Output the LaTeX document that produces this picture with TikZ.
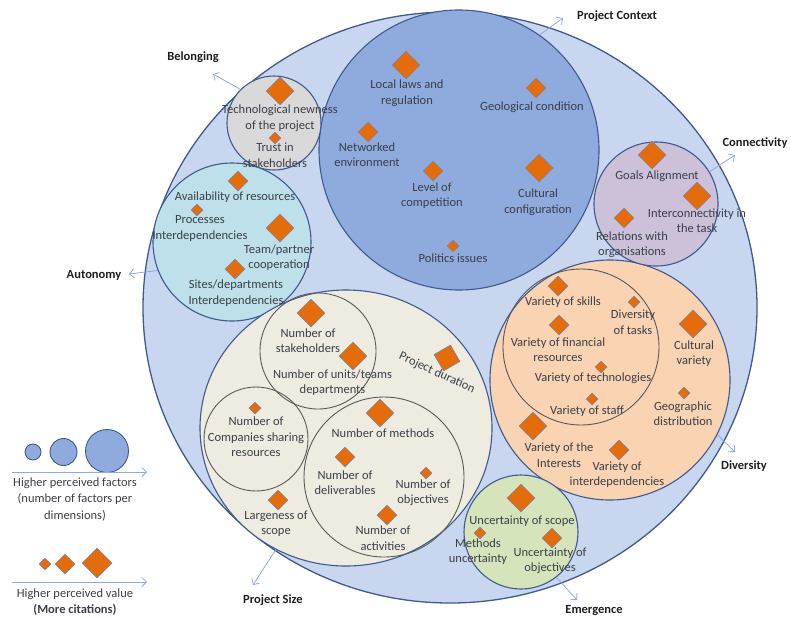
\documentclass[tikz,border=0pt]{standalone}
\usepackage{fontspec}
\setmainfont{Carlito}
\usetikzlibrary{shapes.geometric,arrows.meta}

\definecolor{outerfill}{HTML}{C9D6F0}
\definecolor{ringline}{HTML}{3F5A8C}
\definecolor{ctxfill}{HTML}{8FAADC}
\definecolor{belfill}{HTML}{D9D9D9}
\definecolor{autfill}{HTML}{BDE0EA}
\definecolor{confill}{HTML}{CDC1DA}
\definecolor{divfill}{HTML}{FAD3B3}
\definecolor{sizefill}{HTML}{EEECE1}
\definecolor{emefill}{HTML}{D6E4BC}
\definecolor{subline}{HTML}{595959}
\definecolor{diafill}{HTML}{E46C0A}
\definecolor{dialine}{HTML}{6F87B5}
\definecolor{txt}{HTML}{3A3E48}
\definecolor{dimtxt}{HTML}{1E1E1E}
\definecolor{arr}{HTML}{8EA9DB}

\begin{document}
\begin{tikzpicture}[x=1pt,y=-1pt,
  zone/.style={circle,draw=ringline,line width=1.1pt,inner sep=0pt,minimum size=#1},
  subzone/.style={circle,draw=subline,line width=0.9pt,inner sep=0pt,minimum size=#1},
  dia/.style={diamond,aspect=1,fill=diafill,draw=dialine,line width=0.5pt,inner sep=0pt,minimum width=#1,minimum height=#1},
  dS/.style={dia=12pt},
  dM/.style={dia=20pt},
  dL/.style={dia=28pt},
  lbl/.style={text=txt,align=center,inner sep=0pt,font=\fontsize{12.5}{15.5}\selectfont},
  dimlbl/.style={text=dimtxt,inner sep=0pt,font=\fontsize{12.5}{15}\selectfont\bfseries},
  dimarrow/.style={draw=arr,line width=0.8pt,-{Straight Barb[length=4.5pt,width=9pt]}}
]
\useasboundingbox (0,0) rectangle (791,619);

% ---- dimension zones ----
\node[ellipse,draw=ringline,line width=1.3pt,fill=outerfill,inner sep=0pt,
      minimum width=614pt,minimum height=591pt] (outer) at (450,307.5) {};
\node[zone=280pt,fill=ctxfill] (ctx) at (459,150) {};
\node[zone=158pt,fill=autfill] (aut) at (232,242) {};
\node[zone=94pt,fill=belfill] (bel) at (274,123) {};
\node[zone=240pt,fill=divfill] (div) at (610,380) {};
\node[subzone=156pt] (divin) at (581,347) {};
\node[zone=124pt,fill=confill] (con) at (656,204) {};
\node[ellipse,draw=ringline,line width=1.1pt,fill=sizefill,inner sep=0pt,
      minimum width=292pt,minimum height=276pt] (size) at (346,428) {};
\node[subzone=116pt] (stake) at (318,351) {};
\node[subzone=104pt] (comp) at (256,439) {};
\node[subzone=160pt] (meth) at (384,477) {};
\node[zone=114pt,fill=emefill] (eme) at (521,532) {};

% ---- dimension labels and their arrows ----
\node[dimlbl] (belL) at (193,57) {Belonging};
\node[dimlbl] (ctxL) at (617,16) {Project Context};
\node[dimlbl] (conL) at (755,143) {Connectivity};
\node[dimlbl] (autL) at (94,275) {Autonomy};
\node[dimlbl] (divL) at (744,466) {Diversity};
\node[dimlbl] (sizeL) at (273,600) {Project Size};
\node[dimlbl] (emeL) at (594,610) {Emergence};

\coordinate (belTip) at (213,74);
\coordinate (ctxTip) at (563,18);
\coordinate (conTip) at (735,155);
\coordinate (autTip) at (129,274);
\coordinate (divTip) at (735,452);
\coordinate (sizeTip) at (253,585);
\coordinate (emeTip) at (577,600);

\draw[dimarrow] (bel.135) -- (belTip);
\draw[dimarrow] (ctx.55) -- (ctxTip);
\draw[dimarrow] (con.31) -- (conTip);
\draw[dimarrow] (aut.201) -- (autTip);
\draw[dimarrow] (div.-27.6) -- (divTip);
\draw[dimarrow] (size.-120) -- (sizeTip);
\draw[dimarrow] (eme.-52.6) -- (emeTip);

% ---- Project Context factors ----
\node[dL] (d1) at (406,65) {};
\node[lbl] (t1) at (407,93) {Local laws and\\regulation};
\node[dM] (d2) at (536,88) {};
\node[lbl] (t2) at (532,107) {Geological condition};
\node[dM] (d3) at (368,132) {};
\node[lbl] (t3) at (367,154.5) {Networked\\environment};
\node[dM] (d4) at (433,171) {};
\node[lbl] (t4) at (432,195.5) {Level of\\competition};
\node[dL] (d5) at (539,168) {};
\node[lbl] (t5) at (538,202) {Cultural\\configuration};
\node[dS] (d6) at (453,246) {};
\node[lbl] (t6) at (453,258) {Politics issues};

% ---- Belonging factors ----
\node[dL] (d7) at (280,91) {};
\node[lbl] (t7) at (280,118) {Technological newness\\of the project};
\node[dS] (d8) at (275,138) {};
\node[lbl] (t8) at (275,155) {Trust in\\stakeholders};

% ---- Autonomy factors ----
\node[dM] (d9) at (238,181) {};
\node[lbl] (t9) at (235,197) {Availability of resources};
\node[dS] (d10) at (197,210) {};
\node[lbl] (t10) at (200,228.5) {Processes\\Interdependencies};
\node[dL] (d11) at (280,228) {};
\node[lbl] (t11) at (279,257.5) {Team/partner\\cooperation};
\node[dM] (d12) at (235,269) {};
\node[lbl] (t12) at (236,293) {Sites/departments\\Interdependencies};

% ---- Connectivity factors ----
\node[dL] (d13) at (652,155) {};
\node[lbl] (t13) at (657,176) {Goals Alignment};
\node[dL] (d14) at (697,196) {};
\node[lbl] (t14) at (697,220.5) {Interconnectivity in\\the task};
\node[dM] (d15) at (624,218) {};
\node[lbl] (t15) at (632,244.5) {Relations with\\organisations};

% ---- Diversity factors ----
\node[dM] (d16) at (558,286) {};
\node[lbl] (t16) at (563,302) {Variety of skills};
\node[dS] (d17) at (634,302) {};
\node[lbl] (t17) at (633,322) {Diversity\\of tasks};
\node[dM] (d18) at (559,325) {};
\node[lbl] (t18) at (558,349.5) {Variety of financial\\resources};
\node[dL] (d19) at (693,324) {};
\node[lbl] (t19) at (694,353.5) {Cultural\\variety};
\node[dS] (d20) at (601,367) {};
\node[lbl] (t20) at (593,378) {Variety of technologies};
\node[dS] (d21) at (592,399) {};
\node[lbl] (t21) at (587,411) {Variety of staff};
\node[dS] (d22) at (684,393) {};
\node[lbl] (t22) at (683,413.5) {Geographic\\distribution};
\node[dL] (d23) at (533,426) {};
\node[lbl] (t23) at (559,455) {Variety of the\\Interests};
\node[dM] (d24) at (619,450) {};
\node[lbl] (t24) at (617,474.5) {Variety of\\interdependencies};

% ---- Project Size factors ----
\node[dL] (d25) at (311,313) {};
\node[lbl] (t25) at (308,340.5) {Number of\\stakeholders};
\node[dL] (d26) at (353,356) {};
\node[lbl] (t26) at (332.5,382.5) {Number of units/teams\\departments};
\node[dia=27pt,rotate=-15] (d27) at (447,358) {};
\node[lbl,rotate=-24.5] (t27) at (437,373) {Project duration};
\node[dS] (d28) at (255,408) {};
\node[lbl] (t28) at (256,437) {Number of\\Companies sharing\\resources};
\node[dL] (d29) at (380,413) {};
\node[lbl] (t29) at (383,433) {Number of methods};
\node[dM] (d30) at (345,457) {};
\node[lbl] (t30) at (345,482.5) {Number of\\deliverables};
\node[dS] (d31) at (426,473) {};
\node[lbl] (t31) at (423,492.5) {Number of\\objectives};
\node[dM] (d32) at (387,515) {};
\node[lbl] (t32) at (383,538) {Number of\\activities};
\node[dM] (d33) at (278,500) {};
\node[lbl] (t33) at (276,523.5) {Largeness of\\scope};

% ---- Emergence factors ----
\node[dL] (d34) at (521,498) {};
\node[lbl] (t34) at (522,521) {Uncertainty of scope};
\node[dS] (d35) at (480,533) {};
\node[lbl] (t35) at (478,551.5) {Methods\\uncertainty};
\node[dM] (d36) at (552,538) {};
\node[lbl] (t36) at (550,561) {Uncertainty of\\objectives};

% ---- legend ----
\node[zone=16pt,fill=ctxfill,line width=0.9pt] (lc1) at (33,452) {};
\node[zone=27pt,fill=ctxfill,line width=0.9pt] (lc2) at (63.5,452) {};
\node[zone=43pt,fill=ctxfill,line width=0.9pt] (lc3) at (107,451) {};
\coordinate (la1) at (12,472);
\coordinate (lb1) at (147,472);
\draw[dimarrow] (la1) -- (lb1);
\node[lbl,font=\fontsize{12.5}{16.5}\selectfont] (lt1) at (75,499.5)
  {Higher perceived factors\\(number of factors per\\dimensions)};

\node[dS] (ld1) at (45,564) {};
\node[dM] (ld2) at (65,564) {};
\node[dia=30pt] (ld3) at (97,563) {};
\coordinate (la2) at (12,582);
\coordinate (lb2) at (147,582);
\draw[dimarrow] (la2) -- (lb2);
\node[lbl] (lt2) at (75,602) {Higher perceived value\\\textbf{(More citations)}};
\end{tikzpicture}
\end{document}
